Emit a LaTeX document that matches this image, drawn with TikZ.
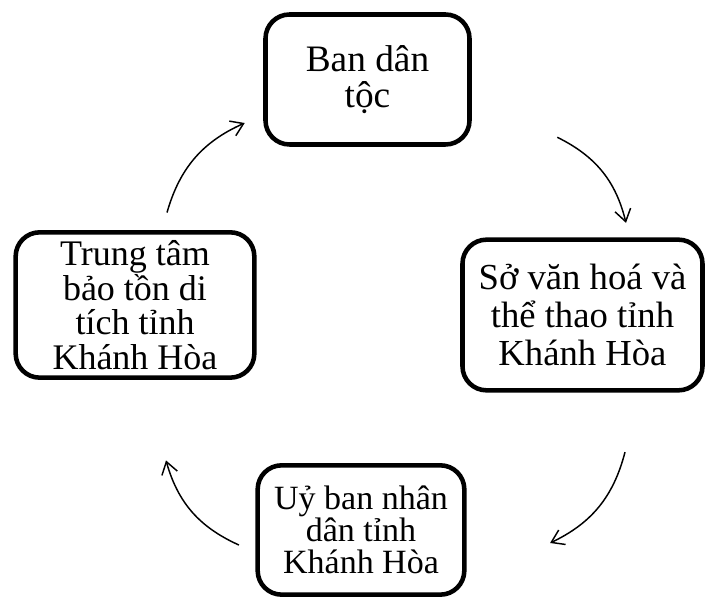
\documentclass[tikz,border=0pt]{standalone}
\usepackage{fontspec}
\setmainfont{Liberation Serif}
\usetikzlibrary{positioning, arrows.meta}

\begin{document}
\begin{tikzpicture}[
    x=0.75pt, y=-0.75pt,
    block/.style={rectangle, draw, line width=3.4pt, rounded corners=18pt,
    align=center, inner sep=0pt},
    arrow/.style={-{Straight Barb[length=9pt,width=12pt]}, line width=1.1pt}
]
\useasboundingbox (0,0) rectangle (708,598);

\node[block, minimum width=153pt, minimum height=97.5pt,
    font={\fontsize{28}{26.5}\selectfont}] (bandt) at (367.5,79.5) {Ban dân\\tộc};
\node[block, minimum width=180pt, minimum height=113pt,
    font={\fontsize{27.5}{28.5}\selectfont}] (sovh) at (582.5,315) {Sở văn hoá và\\thể thao tỉnh\\Khánh Hòa};
\node[block, minimum width=155pt, minimum height=97pt,
    font={\fontsize{25.5}{24}\selectfont}] (uyban) at (361,530) {Uỷ ban nhân\\dân tỉnh\\Khánh Hòa};
\node[block, minimum width=179pt, minimum height=109pt,
    font={\fontsize{27}{26}\selectfont}] (trungtam) at (135,305) {Trung tâm\\bảo tồn di\\tích tỉnh\\Khánh Hòa};

\draw[arrow] ([shift={(32,-17.5)}]trungtam.north) to[bend left=25] ([shift={(-18.5,43.5)}]bandt.west);
\draw[arrow] ([shift={(85.5,-9.5)}]bandt.south east) to[bend left=25] ([shift={(43.5,-14.5)}]sovh.north);
\draw[arrow] ([shift={(42.5,59.5)}]sovh.south) to[bend left=25] ([shift={(83.5,13)}]uyban.east);
\draw[arrow] ([shift={(-16.5,15)}]uyban.west) to[bend left=25] ([shift={(31,80.5)}]trungtam.south);

\end{tikzpicture}
\end{document}
